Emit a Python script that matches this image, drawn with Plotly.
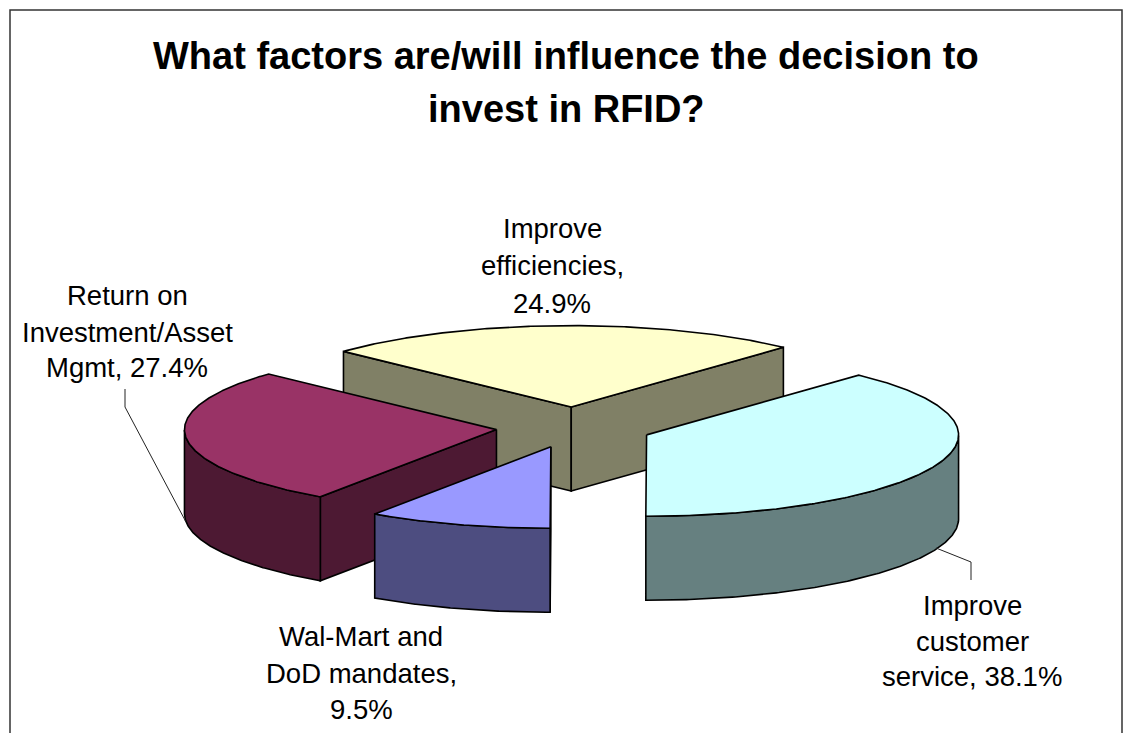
import numpy as np
import plotly.graph_objects as go

# --- data ---
categories = ["Improve efficiencies", "Improve customer service",
              "Wal-Mart and DoD mandates", "Return on Investment/Asset Mgmt"]
values = [24.9, 38.1, 9.5, 27.4]
label_lines = [["Improve", "efficiencies,", "24.9%"],
               ["Improve", "customer", "service, 38.1%"],
               ["Wal-Mart and", "DoD mandates,", "9.5%"],
               ["Return on", "Investment/Asset", "Mgmt, 27.4%"]]
title_lines = ["What factors are/will influence the decision to", "invest in RFID?"]

# --- styling / layout ---
top_colors = ["#FFFFCC", "#CCFFFF", "#9999FF", "#993366"]
side_colors = ["#808066", "#668080", "#4D4D80", "#4D1933"]
label_pos = [[(552, 228), (552, 265), (552, 303)],
             [(972, 605), (972, 641), (972, 676)],
             [(361, 636), (361, 673), (361, 709)],
             [(127, 295), (127, 332), (127, 367)]]
title_pos = [(566, 56), (566, 109)]
draw_order = [0, 3, 1, 2]
CX, CY, R, TILT, DEPTH, EXPLODE = 574.0, 427.4, 312.0, 0.261, 84.0, 78.0
SPLIT_DEG = 47.16   # angle where the first slice ends and the second begins

# --- slice angles (degrees, counter-clockwise, slice order clockwise from first) ---
spans = [v / sum(values) * 360 for v in values]
first_start = SPLIT_DEG + spans[0]
angles = []
a = first_start
for s in spans:
    angles.append((a, a - s))
    a -= s


def project(theta, radius, apex):
    t = np.radians(theta)
    return apex[0] + radius * np.cos(t), apex[1] - radius * TILT * np.sin(t)


def poly(xs, ys, color):
    return go.Scatter(x=list(xs), y=list(ys), mode="lines", fill="toself", fillcolor=color,
                      line=dict(color="black", width=1.6), hoverinfo="skip", showlegend=False)


traces = []
for i in draw_order:
    hi, lo = angles[i]
    mid = np.radians((hi + lo) / 2)
    apex = (CX + EXPLODE * np.cos(mid), CY - EXPLODE * TILT * np.sin(mid))
    # radial walls that face the viewer
    walls = []
    if np.cos(np.radians(hi)) < -1e-6:
        walls.append(hi)
    if np.cos(np.radians(lo)) > 1e-6:
        walls.append(lo)
    for edge in walls:
        ex, ey = project(edge, R, apex)
        traces.append(poly([apex[0], ex, ex, apex[0], apex[0]],
                           [apex[1], ey, ey + DEPTH, apex[1] + DEPTH, apex[1]], side_colors[i]))
    # outer wall, front-facing part only
    th = np.linspace(hi, lo, 240)
    th = th[np.sin(np.radians(th)) <= 0]
    if len(th):
        ax, ay = project(th, R, apex)
        traces.append(poly(np.r_[ax, ax[::-1], ax[0]], np.r_[ay, ay[::-1] + DEPTH, ay[0]], side_colors[i]))
    # top
    th = np.linspace(hi, lo, 240)
    ax, ay = project(th, R, apex)
    traces.append(poly(np.r_[apex[0], ax, apex[0]], np.r_[apex[1], ay, apex[1]], top_colors[i]))

fig = go.Figure(traces)

annotations = []
for (x, y), line in zip(title_pos, title_lines):
    annotations.append(dict(x=x, y=y, text="<b>%s</b>" % line, showarrow=False, xanchor="center",
                            yanchor="middle", font=dict(family="Liberation Sans", size=38, color="black")))
for pos, lines in zip(label_pos, label_lines):
    for (x, y), line in zip(pos, lines):
        annotations.append(dict(x=x, y=y, text=line, showarrow=False, xanchor="center", yanchor="middle",
                                font=dict(family="Liberation Sans", size=27.5, color="black")))

shapes = [
    dict(type="path", path="M 10 733 L 10 10 L 1122 10 L 1122 733", line=dict(color="#333333", width=1.5), layer="below"),
    dict(type="path", path="M 125 389 L 125 407 L 186 522", line=dict(color="#222222", width=1)),
    dict(type="path", path="M 936 548 L 971 562 L 971 580", line=dict(color="#222222", width=1)),
]

fig.update_layout(
    width=1132, height=733, margin=dict(l=0, r=0, t=0, b=0),
    paper_bgcolor="white", plot_bgcolor="white", showlegend=False,
    xaxis=dict(range=[0, 1132], visible=False, fixedrange=True),
    yaxis=dict(range=[733, 0], visible=False, fixedrange=True),
    annotations=annotations, shapes=shapes,
)
fig.write_html("out.html", config={"displayModeBar": False},
               post_script="document.body.style.margin='0';document.body.style.overflow='hidden';")
